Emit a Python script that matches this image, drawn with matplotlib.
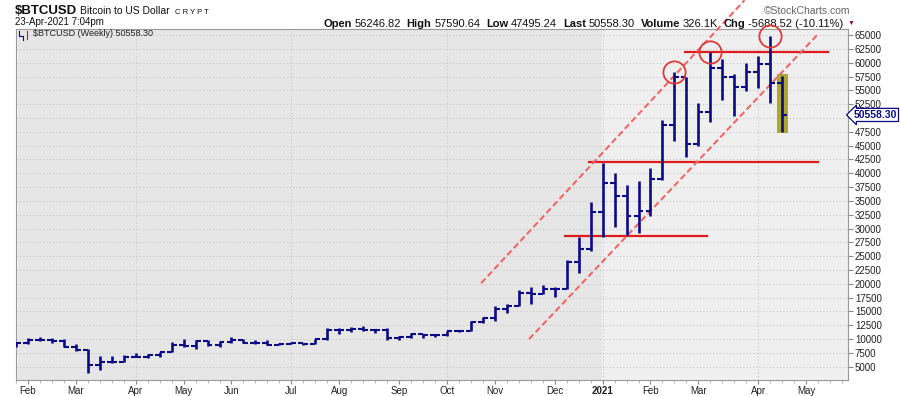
import numpy as np
import pandas as pd
import matplotlib
matplotlib.use('Agg')
import matplotlib.pyplot as plt
import matplotlib.dates as mdates
from matplotlib.patches import Rectangle

plt.rcParams['font.family'] = ['Liberation Sans', 'DejaVu Sans']

# weekly bars, week starting monday
week_start = pd.date_range('2020-01-27', periods=65, freq='7D')
opens = [8600, 9340, 9900, 9900, 9660, 8520, 8030, 5390, 5830, 5880, 6775, 6850, 7100,
         7700, 8900, 8730, 9730, 8900, 9450, 9760, 9380, 9300, 9010, 9130, 9250, 9160,
         9930, 11600, 11600, 11850, 11650, 11650, 10250, 10330, 10920, 10780, 10670, 11380,
         11500, 13030, 13740, 15480, 15960, 18400, 18180, 19150, 19150, 23860, 26270,
         33000, 38200, 35800, 32300, 33100, 38900, 48700, 57400, 45250, 51000, 59000,
         57450, 55700, 58300, 59850, 56246.82]
highs = [9550, 10150, 10450, 10200, 9960, 9180, 8150, 6900, 6970, 7100, 7460, 7280, 7750,
         9450, 9950, 9870, 9840, 9570, 10380, 9990, 9800, 9770, 9330, 9470, 9330, 9990,
         12000, 12050, 12100, 12450, 11800, 12050, 10600, 11100, 10990, 10950, 11480, 11720,
         13200, 14000, 15900, 16400, 18800, 19400, 19700, 19400, 24300, 28400, 34800,
         41900, 40100, 37900, 38600, 41000, 49700, 58350, 57500, 52700, 61950, 60600,
         58000, 60000, 61200, 64800, 57590.64]
lows = [8560, 9150, 9700, 9300, 8500, 7850, 3860, 4450, 5700, 5880, 6700, 6560, 6850,
        7650, 8500, 8200, 8820, 8650, 9270, 9250, 9200, 8850, 8970, 9060, 9020, 9120,
        9920, 11000, 11200, 11400, 11150, 9900, 9900, 10250, 10150, 10400, 10530, 11250,
        11400, 12900, 13300, 14800, 15900, 16300, 18100, 17600, 19000, 21900, 25900,
        28450, 30300, 28850, 29200, 32300, 38700, 45800, 43000, 45000, 49300, 53250,
        50300, 54800, 55400, 52800, 47495.24]
closes = [9340, 9900, 9900, 9660, 8520, 8030, 5390, 5830, 5880, 6775, 6850, 7100, 7700,
          8900, 8730, 9730, 8900, 9450, 9760, 9380, 9300, 9010, 9130, 9250, 9160, 9930,
          11600, 11600, 11850, 11650, 11650, 10250, 10330, 10920, 10780, 10670, 11380, 11500,
          13030, 13740, 15480, 15960, 18400, 18180, 19150, 19150, 23860, 26270, 33000,
          38200, 35800, 32300, 33100, 38900, 48700, 57400, 45250, 51000, 59000, 57450,
          55700, 58300, 59850, 56246.82, 50558.30]

# horizontal support / resistance lines
level_values = [28670, 42100, 61980]
level_start = ['2020-12-13', '2020-12-27', '2021-02-21']
level_end = ['2021-03-06', '2021-05-10', '2021-05-16']

# dashed channel
channel_start = ['2020-10-25', '2020-11-22']
channel_start_val = [20120, 10000]
channel_end = ['2021-03-28', '2021-05-10']
channel_end_val = [71300, 65180]

# weeks whose highs are circled
circled_weeks = ['2021-02-15', '2021-03-08', '2021-04-12']

navy = '#0b0b86'
W, H = 900, 396

fig = plt.figure(figsize=(9, 3.96), dpi=100)
ax = fig.add_axes([16 / W, 16 / H, 832 / W, 350.7 / H])
ax.set_facecolor('#efefef')

x0 = mdates.date2num(pd.Timestamp('2020-01-28 04:00'))
x1 = mdates.date2num(pd.Timestamp('2021-05-27 12:00'))
ax.set_xlim(x0, x1)
ax.set_ylim(2600, 66050)

# 2020 part is a shade darker
ax.axvspan(x0, mdates.date2num(pd.Timestamp('2021-01-03 12:00')), color='#e6e6e6', lw=0, zorder=0)

# grid
ax.set_yticks(np.arange(5000, 65001, 2500))
ax.grid(axis='y', ls=(0, (1, 2)), color='#c9c9c9', lw=0.8, zorder=1)
for q in ['2020-04-06', '2020-07-06', '2020-10-05', '2021-01-04', '2021-04-05']:
    ax.axvline(mdates.date2num(pd.Timestamp(q)), ls=(0, (1, 2)), color='#c9c9c9', lw=0.8, zorder=1)

xd = mdates.date2num(week_start)
tick = 2.9

# highlight of last bar
ax.add_patch(Rectangle((xd[-1] - 3.2, lows[-1] - 260), 6.4, highs[-1] - lows[-1] + 560,
                       color='#aca733', lw=0, zorder=2))

ax.vlines(xd, lows, highs, color=navy, lw=1.9, zorder=4)
ax.hlines(opens, xd - tick, xd, color=navy, lw=1.5, zorder=4)
ax.hlines(closes, xd, xd + tick, color=navy, lw=1.5, zorder=4)

for v, s, e in zip(level_values, level_start, level_end):
    ax.plot([pd.Timestamp(s), pd.Timestamp(e)], [v, v], color='#e01b1b', lw=1.6, zorder=3)

for s, sv, e, ev in zip(channel_start, channel_start_val, channel_end, channel_end_val):
    ax.plot([pd.Timestamp(s), pd.Timestamp(e)], [sv, ev], color='#f26767', lw=1.5,
            ls=(0, (3, 1.6)), zorder=3, clip_on=False)

idx = [list(week_start).index(pd.Timestamp(w)) for w in circled_weeks]
ax.plot(xd[idx], [highs[i] for i in idx], 'o', ms=16, mfc='none', mec='#e23a3a', mew=1.3,
        zorder=5, clip_on=False)

# axes styling
for sp in ax.spines.values():
    sp.set_color('#9a9a9a')
    sp.set_linewidth(0.8)
ax.yaxis.tick_right()
ylabels = ['' if t == 50000 else str(int(t)) for t in np.arange(5000, 65001, 2500)]
ax.set_yticklabels(ylabels)
ax.tick_params(axis='y', length=3.5, width=0.8, color='#888', labelsize=7, pad=1.5, labelcolor='#222')

month_ticks = pd.date_range('2020-02-01', '2021-05-31', freq='WOM-1MON')
ax.set_xticks(mdates.date2num(month_ticks))
mlabels = ['2021' if d.month == 1 else d.strftime('%b') for d in month_ticks]
ax.set_xticklabels(mlabels)
for lab in ax.get_xticklabels():
    if lab.get_text() == '2021':
        lab.set_fontweight('bold')
ax.set_xticks(mdates.date2num(pd.date_range('2020-01-27', '2021-05-24', freq='7D')), minor=True)
ax.tick_params(axis='x', which='major', length=3, width=0.8, color='#888', labelsize=7, pad=1.5, labelcolor='#222')
ax.tick_params(axis='x', which='minor', length=2, width=0.6, color='#aaa')

# last price tag
ax.annotate('%.2f' % closes[-1], xy=(1, closes[-1]), xycoords=('axes fraction', 'data'),
            xytext=(4, 0), textcoords='offset points', ha='left', va='center', fontsize=7.5,
            weight='bold', color=navy, annotation_clip=False,
            bbox=dict(boxstyle='larrow,pad=0.15', fc='white', ec=navy, lw=0.9))

# legend line inside the plot
ax.text(0.0205, 0.988, '$BTCUSD (Weekly) 50558.30', transform=ax.transAxes, fontsize=6.5,
        va='center', ha='left', color='#222')
ax.plot([0.004, 0.004, 0.009, 0.009], [0.995, 0.98, 0.98, 0.97], transform=ax.transAxes,
        color=navy, lw=0.8, clip_on=False)
ax.plot([0.013, 0.013], [0.995, 0.972], transform=ax.transAxes, color='#c02020', lw=0.8, clip_on=False)


def fpos(x, y):
    return x / W, 1 - y / H


# header
fig.text(*fpos(15, 14.5), '$BTCUSD', fontsize=9.5, weight='bold', va='baseline', color='#111')
fig.text(*fpos(80, 14.5), 'Bitcoin to US Dollar', fontsize=7.5, va='baseline', color='#111')
fig.text(*fpos(175, 14.5), 'C R Y P T', fontsize=5.5, va='baseline', color='#111')
fig.text(*fpos(15, 25), '23-Apr-2021 7:04pm', fontsize=7, va='baseline', color='#111')
fig.text(*fpos(850, 13.5), '\u00a9StockCharts.com', fontsize=7.5, va='baseline', ha='right', color='#666')

pieces = [('Open', True), ('56246.82', False), ('High', True), ('57590.64', False),
          ('Low', True), ('47495.24', False), ('Last', True), ('50558.30', False),
          ('Volume', True), ('326.1K', False), ('Chg', True), ('-5688.52 (-10.11%)', False)]
prev = fig.text(*fpos(323, 29), pieces[0][0], fontsize=8, weight='bold',
                va='bottom', color='#111')
for txt, bold in pieces[1:]:
    gap = 4.2 if bold else 2.0
    prev = ax.annotate(txt, xy=(1, 0), xycoords=prev, xytext=(gap, 0), textcoords='offset points',
                       fontsize=8, color='#111', weight='bold' if bold else 'normal',
                       va='bottom', ha='left', annotation_clip=False)
ax.annotate('\u25bc', xy=(1, 0), xycoords=prev, xytext=(2.5, 1.5), textcoords='offset points',
            fontsize=5, color='#8a1538', va='bottom', ha='left', annotation_clip=False)

fig.savefig('out.png', dpi=100)
